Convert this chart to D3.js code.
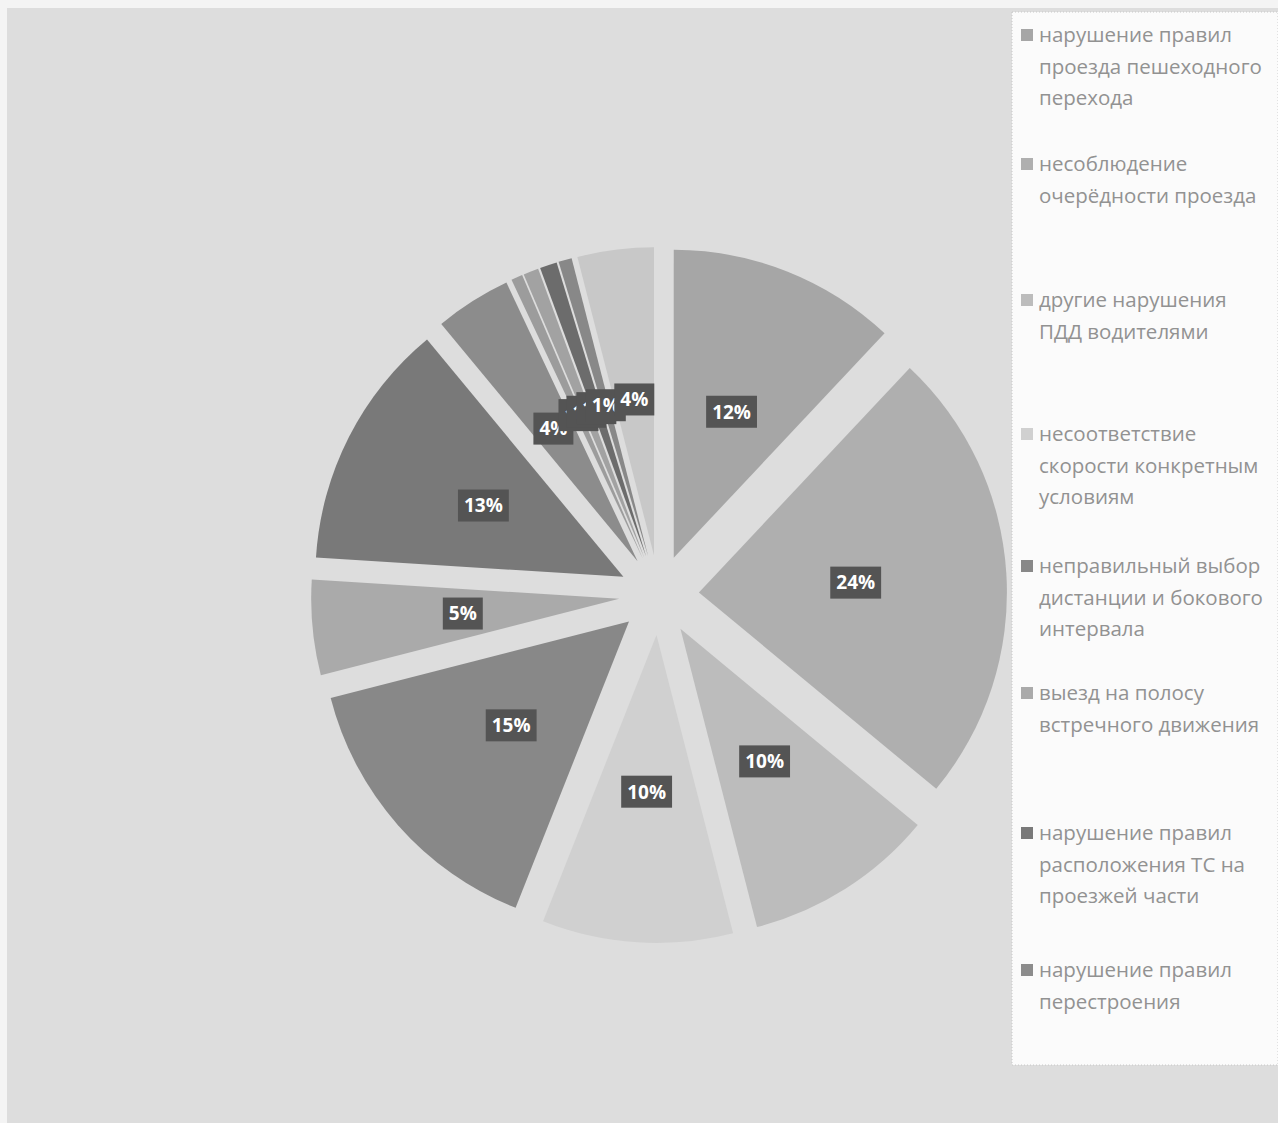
<!DOCTYPE html>
<html>
<head>
<meta charset="utf-8">
<script src="https://cdn.jsdelivr.net/npm/d3@7"></script>
<style>
  html, body { margin: 0; padding: 0; background: #ffffff; }
  svg { display: block; }
  .lbl-txt { font-family: "Open Sans", "DejaVu Sans", sans-serif; font-weight: bold; font-size: 19px; fill: #ffffff; }
  .leg-txt { font-family: "Open Sans", "DejaVu Sans", sans-serif; font-size: 20.5px; fill: #929292; }
</style>
</head>
<body>
<div id="chart"></div>
<script>
// slices clockwise from 12 o'clock, values in percent
var categories = [
  "нарушение правил проезда пешеходного перехода",
  "несоблюдение очерёдности проезда",
  "другие нарушения ПДД водителями",
  "несоответствие скорости конкретным условиям",
  "неправильный выбор дистанции и бокового интервала",
  "выезд на полосу встречного движения",
  "нарушение правил расположения ТС на проезжей части",
  "нарушение правил перестроения",
  "прочие 1",
  "прочие 2",
  "прочие 3",
  "прочие 4",
  "прочие 5"
];
var values = [12, 24, 10, 10, 15, 5, 13, 4, 0.6, 0.8, 0.9, 0.7, 4];
var shades = ["#a6a6a6", "#afafaf", "#bcbcbc", "#d0d0d0", "#888888", "#aaaaaa",
              "#797979", "#8c8c8c", "#9c9c9c", "#a2a2a2", "#6c6c6c", "#888888", "#c8c8c8"];

// legend lines as wrapped in the picture (only the first 8 fit)
var legendLines = [
  ["нарушение правил", "проезда пешеходного", "перехода"],
  ["несоблюдение", "очерёдности проезда"],
  ["другие нарушения", "ПДД водителями"],
  ["несоответствие", "скорости конкретным", "условиям"],
  ["неправильный выбор", "дистанции и бокового", "интервала"],
  ["выезд на полосу", "встречного движения"],
  ["нарушение правил", "расположения ТС на", "проезжей части"],
  ["нарушение правил", "перестроения"]
];
var legendTops = [35, 164, 300, 434, 566, 693, 833, 970];

var W = 1278, H = 1123;
var cx = 659, cy = 595, R = 308, explode = 40;

var svg = d3.select("#chart").append("svg").attr("width", W).attr("height", H);

// scanned page background
svg.append("rect").attr("x", 0).attr("y", 0).attr("width", W).attr("height", H).attr("fill", "#f4f4f4");
svg.append("rect").attr("x", 7).attr("y", 8).attr("width", W - 7).attr("height", H - 8).attr("fill", "#dddddd");

var total = d3.sum(values);
var pie = d3.pie().sort(null).value(function(d) { return d; });
var arcs = pie(values);
var arc = d3.arc().innerRadius(0).outerRadius(R);
var fmt = function(v) { return Math.round(v / total * 100) + "%"; };

function shift(d)
{
  var a = (d.startAngle + d.endAngle) / 2;
  return [Math.sin(a) * explode, -Math.cos(a) * explode];
}

var g = svg.append("g").attr("transform", "translate(" + cx + "," + cy + ")");

g.selectAll("path.slice").data(arcs).enter().append("path")
  .attr("class", "slice")
  .attr("d", arc)
  .attr("fill", function(d, i) { return shades[i]; })
  .attr("transform", function(d) { return "translate(" + shift(d) + ")"; });

// data labels: white bold text on dark box
var lblArc = d3.arc().innerRadius(0).outerRadius(R * 1.02);
var labels = g.selectAll("g.lbl").data(arcs).enter().append("g")
  .attr("class", "lbl")
  .attr("transform", function(d)
  {
    var s = shift(d), c = lblArc.centroid(d);
    return "translate(" + (c[0] + s[0]) + "," + (c[1] + s[1]) + ")";
  });

labels.append("text")
  .attr("class", "lbl-txt")
  .attr("text-anchor", "middle")
  .attr("dy", "0.36em")
  .text(function(d) { return fmt(d.value); });

labels.each(function()
{
  var t = d3.select(this).select("text");
  var b = t.node().getBBox();
  d3.select(this).insert("rect", "text")
    .attr("x", b.x - 6).attr("y", -16)
    .attr("width", b.width + 12).attr("height", 32)
    .attr("fill", "#545454");
});

// legend panel
var lg = svg.append("g");
lg.append("rect").attr("x", 1012).attr("y", 12).attr("width", 266).attr("height", 1053)
  .attr("fill", "#fbfbfb").attr("stroke", "#c8c8c8").attr("stroke-dasharray", "1,2");

var items = lg.selectAll("g.item").data(legendLines).enter().append("g")
  .attr("class", "item")
  .attr("transform", function(d, i) { return "translate(1021," + legendTops[i] + ")"; });

items.append("rect")
  .attr("x", 0).attr("y", -6).attr("width", 12).attr("height", 12)
  .attr("fill", function(d, i) { return shades[i]; });

items.append("text")
  .attr("class", "leg-txt")
  .selectAll("tspan").data(function(d) { return d; }).enter().append("tspan")
  .attr("x", 18)
  .attr("y", function(d, j) { return j * 31.5; })
  .attr("dy", "0.35em")
  .text(function(d) { return d; });
</script>
</body>
</html>
